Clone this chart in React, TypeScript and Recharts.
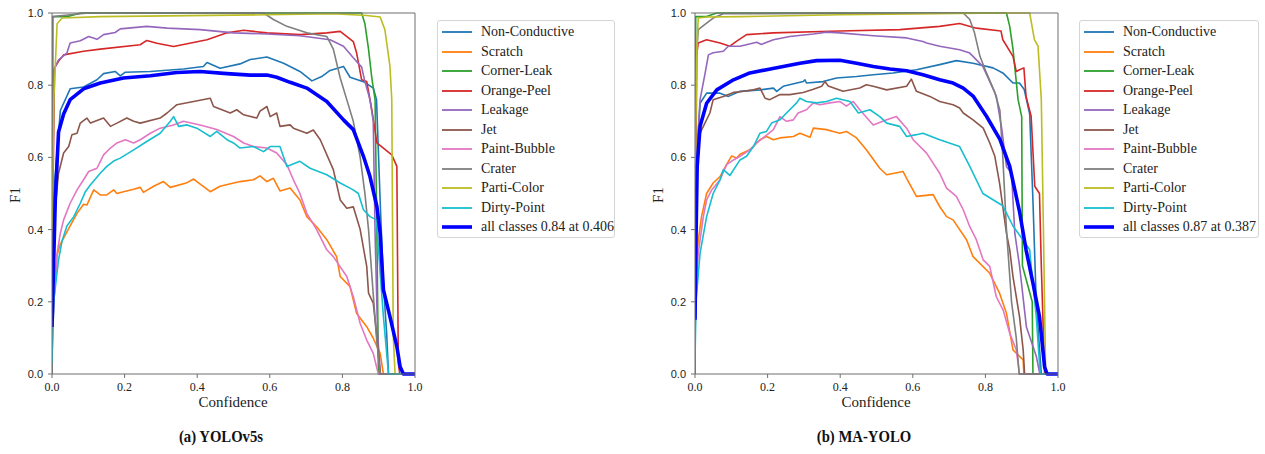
import React from "react";
import { LineChart, Line, XAxis, YAxis, ReferenceLine } from "recharts";

type Pt = [number, number];

const classNames = [
  "Non-Conductive",
  "Scratch",
  "Corner-Leak",
  "Orange-Peel",
  "Leakage",
  "Jet",
  "Paint-Bubble",
  "Crater",
  "Parti-Color",
  "Dirty-Point",
];

const classColors = [
  "#1f77b4", "#ff7f0e", "#2ca02c", "#d62728", "#9467bd",
  "#8c564b", "#e377c2", "#7f7f7f", "#bcbd22", "#17becf",
];
const allColor = "#0000ff";

const axisTicks = [0, 0.2, 0.4, 0.6, 0.8, 1.0];

// ---- (a) YOLOv5s : [confidence, F1] ----
const v5NonConductive: Pt[] = [[0,0.1],[0.005,0.5],[0.023,0.73],[0.05,0.79],[0.087,0.795],[0.124,0.815],[0.142,0.832],[0.174,0.838],[0.188,0.826],[0.202,0.836],[0.271,0.838],[0.362,0.845],[0.417,0.852],[0.427,0.863],[0.463,0.847],[0.518,0.859],[0.546,0.871],[0.592,0.878],[0.638,0.861],[0.683,0.838],[0.716,0.812],[0.743,0.824],[0.766,0.841],[0.803,0.852],[0.821,0.822],[0.862,0.808],[0.885,0.792],[0.894,0.76],[0.904,0.48],[0.913,0.25],[0.922,0.11],[0.927,0],[1,0]];
const v5Scratch: Pt[] = [[0,0.1],[0.005,0.2],[0.014,0.33],[0.023,0.36],[0.05,0.41],[0.069,0.445],[0.087,0.47],[0.096,0.468],[0.115,0.51],[0.133,0.496],[0.151,0.496],[0.17,0.51],[0.179,0.5],[0.197,0.505],[0.225,0.512],[0.243,0.517],[0.252,0.503],[0.28,0.52],[0.307,0.533],[0.326,0.517],[0.372,0.53],[0.39,0.54],[0.436,0.505],[0.463,0.52],[0.518,0.533],[0.555,0.538],[0.573,0.549],[0.592,0.533],[0.61,0.542],[0.628,0.507],[0.656,0.515],[0.683,0.482],[0.702,0.436],[0.729,0.408],[0.757,0.372],[0.784,0.325],[0.794,0.27],[0.821,0.242],[0.839,0.168],[0.867,0.131],[0.885,0.099],[0.904,0.057],[0.913,0],[1,0]];
const v5CornerLeak: Pt[] = [[0,0],[0.002,0.99],[0.041,0.99],[0.08,1.0],[0.853,1.0],[0.862,0.97],[0.872,0.9],[0.881,0.82],[0.89,0.76],[0.895,0.39],[0.899,0.02],[0.9,0],[1,0]];
const v5OrangePeel: Pt[] = [[0,0.3],[0.007,0.848],[0.018,0.866],[0.032,0.884],[0.087,0.894],[0.133,0.9],[0.243,0.912],[0.261,0.924],[0.289,0.916],[0.335,0.907],[0.427,0.926],[0.482,0.945],[0.528,0.952],[0.592,0.945],[0.683,0.94],[0.757,0.945],[0.794,0.949],[0.83,0.921],[0.839,0.89],[0.853,0.815],[0.867,0.81],[0.881,0.732],[0.895,0.64],[0.936,0.607],[0.95,0.575],[0.954,0.03],[0.958,0],[1,0]];
const v5Leakage: Pt[] = [[0,0.3],[0.005,0.843],[0.018,0.87],[0.041,0.889],[0.05,0.917],[0.078,0.923],[0.101,0.935],[0.124,0.927],[0.142,0.94],[0.174,0.946],[0.188,0.956],[0.261,0.963],[0.317,0.958],[0.408,0.954],[0.5,0.945],[0.592,0.942],[0.683,0.937],[0.766,0.926],[0.803,0.908],[0.83,0.876],[0.853,0.85],[0.862,0.81],[0.876,0.76],[0.885,0.7],[0.89,0.39],[0.897,0.11],[0.905,0],[1,0]];
const v5Jet: Pt[] = [[0,0.25],[0.003,0.35],[0.009,0.464],[0.018,0.556],[0.032,0.612],[0.046,0.63],[0.055,0.663],[0.069,0.667],[0.078,0.695],[0.096,0.709],[0.106,0.695],[0.142,0.709],[0.161,0.686],[0.179,0.695],[0.206,0.709],[0.225,0.7],[0.243,0.695],[0.298,0.709],[0.317,0.723],[0.344,0.746],[0.39,0.755],[0.436,0.764],[0.445,0.741],[0.491,0.723],[0.509,0.732],[0.528,0.718],[0.564,0.709],[0.573,0.728],[0.592,0.741],[0.601,0.713],[0.619,0.723],[0.628,0.686],[0.656,0.69],[0.665,0.681],[0.702,0.667],[0.72,0.676],[0.739,0.649],[0.775,0.566],[0.794,0.482],[0.812,0.459],[0.83,0.463],[0.849,0.4],[0.867,0.298],[0.872,0.224],[0.885,0.196],[0.894,0.113],[0.904,0],[1,0]];
const v5PaintBubble: Pt[] = [[0,0.05],[0.005,0.2],[0.014,0.335],[0.023,0.39],[0.032,0.427],[0.05,0.473],[0.069,0.51],[0.087,0.538],[0.101,0.561],[0.124,0.57],[0.142,0.607],[0.161,0.626],[0.179,0.64],[0.202,0.649],[0.225,0.64],[0.243,0.649],[0.271,0.667],[0.298,0.681],[0.335,0.69],[0.362,0.7],[0.408,0.69],[0.454,0.677],[0.5,0.658],[0.528,0.64],[0.555,0.63],[0.592,0.626],[0.619,0.612],[0.647,0.58],[0.665,0.538],[0.683,0.5],[0.702,0.445],[0.729,0.4],[0.757,0.344],[0.775,0.325],[0.812,0.27],[0.83,0.214],[0.849,0.14],[0.867,0.094],[0.885,0.057],[0.899,0],[1,0]];
const v5Crater: Pt[] = [[0,0],[0.002,0.99],[0.05,0.995],[0.1,1.0],[0.583,1.0],[0.61,0.982],[0.647,0.963],[0.702,0.945],[0.757,0.935],[0.775,0.9],[0.794,0.82],[0.812,0.76],[0.83,0.7],[0.849,0.6],[0.862,0.5],[0.872,0.4],[0.885,0.22],[0.894,0.1],[0.904,0],[1,0]];
const v5PartiColor: Pt[] = [[0,0.4],[0.005,0.76],[0.014,0.97],[0.028,0.986],[0.133,0.99],[0.592,0.995],[0.775,0.998],[0.867,0.993],[0.904,0.989],[0.917,0.954],[0.931,0.852],[0.936,0.76],[0.94,0.11],[0.945,0],[1,0]];
const v5DirtyPoint: Pt[] = [[0,0.03],[0.005,0.205],[0.018,0.316],[0.028,0.37],[0.041,0.41],[0.06,0.436],[0.078,0.473],[0.092,0.505],[0.106,0.524],[0.133,0.556],[0.151,0.575],[0.17,0.59],[0.188,0.598],[0.225,0.621],[0.261,0.644],[0.298,0.667],[0.326,0.7],[0.335,0.713],[0.349,0.686],[0.372,0.69],[0.399,0.681],[0.436,0.658],[0.454,0.672],[0.482,0.649],[0.5,0.64],[0.518,0.626],[0.555,0.63],[0.583,0.616],[0.601,0.63],[0.628,0.63],[0.647,0.575],[0.683,0.589],[0.711,0.57],[0.757,0.552],[0.794,0.529],[0.83,0.51],[0.844,0.5],[0.858,0.455],[0.876,0.436],[0.894,0.427],[0.904,0.28],[0.913,0.159],[0.922,0.057],[0.927,0],[1,0]];
const v5All: Pt[] = [[0,0.13],[0.009,0.48],[0.018,0.67],[0.032,0.72],[0.05,0.76],[0.087,0.79],[0.133,0.806],[0.197,0.82],[0.271,0.826],[0.344,0.835],[0.408,0.838],[0.482,0.832],[0.546,0.828],[0.592,0.828],[0.619,0.822],[0.656,0.808],[0.702,0.792],[0.757,0.755],[0.803,0.704],[0.83,0.677],[0.858,0.603],[0.876,0.547],[0.895,0.464],[0.904,0.39],[0.913,0.233],[0.931,0.159],[0.95,0.076],[0.959,0.02],[0.968,0],[1,0]];

// ---- (b) MA-YOLO : [confidence, F1] ----
const maNonConductive: Pt[] = [[0,0.1],[0.005,0.6],[0.014,0.75],[0.032,0.778],[0.069,0.778],[0.092,0.769],[0.124,0.783],[0.179,0.787],[0.216,0.792],[0.225,0.783],[0.243,0.797],[0.298,0.81],[0.303,0.815],[0.307,0.806],[0.353,0.81],[0.39,0.82],[0.445,0.824],[0.491,0.829],[0.546,0.834],[0.61,0.843],[0.674,0.857],[0.72,0.868],[0.766,0.861],[0.821,0.848],[0.848,0.834],[0.876,0.806],[0.894,0.806],[0.907,0.788],[0.922,0.72],[0.931,0.48],[0.94,0.2],[0.954,0],[1,0]];
const maScratch: Pt[] = [[0,0.1],[0.003,0.3],[0.009,0.37],[0.018,0.436],[0.032,0.5],[0.05,0.529],[0.069,0.547],[0.087,0.58],[0.101,0.604],[0.115,0.598],[0.124,0.609],[0.151,0.621],[0.179,0.649],[0.197,0.658],[0.216,0.649],[0.234,0.654],[0.271,0.658],[0.289,0.667],[0.317,0.656],[0.326,0.681],[0.362,0.677],[0.381,0.672],[0.399,0.667],[0.417,0.672],[0.445,0.654],[0.472,0.621],[0.509,0.57],[0.528,0.552],[0.573,0.561],[0.583,0.542],[0.61,0.492],[0.656,0.497],[0.674,0.464],[0.693,0.436],[0.711,0.427],[0.748,0.372],[0.766,0.325],[0.812,0.279],[0.839,0.224],[0.858,0.168],[0.876,0.067],[0.904,0.039],[0.906,0],[1,0]];
const maCornerLeak: Pt[] = [[0,0],[0.002,0.99],[0.032,0.99],[0.06,1.0],[0.858,1.0],[0.867,0.963],[0.876,0.9],[0.89,0.76],[0.9,0.713],[0.902,0.3],[0.929,0.2],[0.931,0],[1,0]];
const maOrangePeel: Pt[] = [[0,0.3],[0.005,0.889],[0.009,0.917],[0.032,0.926],[0.069,0.917],[0.096,0.908],[0.115,0.922],[0.142,0.94],[0.216,0.945],[0.399,0.95],[0.564,0.954],[0.674,0.963],[0.729,0.971],[0.775,0.958],[0.843,0.95],[0.848,0.926],[0.876,0.88],[0.885,0.838],[0.894,0.843],[0.906,0.848],[0.912,0.769],[0.926,0.714],[0.936,0.52],[0.949,0.5],[0.954,0.3],[0.963,0],[1,0]];
const maLeakage: Pt[] = [[0,0.3],[0.003,0.575],[0.014,0.76],[0.028,0.834],[0.037,0.884],[0.05,0.89],[0.078,0.894],[0.092,0.908],[0.124,0.908],[0.17,0.919],[0.183,0.913],[0.216,0.926],[0.261,0.935],[0.326,0.942],[0.362,0.947],[0.399,0.945],[0.491,0.937],[0.583,0.931],[0.628,0.921],[0.638,0.917],[0.674,0.908],[0.729,0.898],[0.757,0.889],[0.793,0.852],[0.83,0.77],[0.845,0.68],[0.858,0.575],[0.872,0.556],[0.881,0.39],[0.894,0.3],[0.913,0.13],[0.94,0.05],[0.95,0],[1,0]];
const maJet: Pt[] = [[0,0.2],[0.003,0.4],[0.005,0.593],[0.014,0.667],[0.023,0.686],[0.041,0.723],[0.05,0.76],[0.078,0.769],[0.106,0.78],[0.124,0.782],[0.161,0.787],[0.179,0.792],[0.193,0.764],[0.206,0.76],[0.234,0.774],[0.261,0.774],[0.298,0.78],[0.326,0.789],[0.349,0.797],[0.358,0.81],[0.367,0.798],[0.408,0.783],[0.454,0.792],[0.472,0.801],[0.491,0.797],[0.528,0.787],[0.583,0.797],[0.596,0.817],[0.61,0.783],[0.647,0.769],[0.674,0.755],[0.711,0.746],[0.729,0.737],[0.739,0.723],[0.766,0.704],[0.794,0.681],[0.812,0.64],[0.826,0.603],[0.839,0.529],[0.858,0.39],[0.867,0.344],[0.876,0.27],[0.894,0.159],[0.904,0.067],[0.908,0],[1,0]];
const maPaintBubble: Pt[] = [[0,0.1],[0.003,0.25],[0.009,0.335],[0.023,0.436],[0.032,0.482],[0.046,0.51],[0.069,0.538],[0.087,0.58],[0.106,0.593],[0.124,0.603],[0.151,0.621],[0.17,0.64],[0.193,0.658],[0.216,0.677],[0.234,0.713],[0.252,0.7],[0.271,0.704],[0.284,0.723],[0.307,0.732],[0.326,0.751],[0.344,0.746],[0.372,0.751],[0.399,0.755],[0.417,0.742],[0.436,0.755],[0.454,0.732],[0.491,0.69],[0.528,0.704],[0.555,0.713],[0.583,0.681],[0.601,0.649],[0.638,0.612],[0.674,0.556],[0.693,0.515],[0.72,0.492],[0.739,0.455],[0.757,0.408],[0.775,0.372],[0.794,0.316],[0.812,0.298],[0.83,0.214],[0.849,0.177],[0.867,0.113],[0.885,0.067],[0.894,0],[1,0]];
const maCrater: Pt[] = [[0,0],[0.002,0.85],[0.009,0.954],[0.032,0.972],[0.05,0.986],[0.078,0.998],[0.739,1.0],[0.757,0.982],[0.77,0.945],[0.785,0.88],[0.803,0.834],[0.826,0.78],[0.84,0.73],[0.848,0.6],[0.858,0.4],[0.872,0.2],[0.885,0.1],[0.893,0],[1,0]];
const maPartiColor: Pt[] = [[0,0.5],[0.005,0.9],[0.009,0.986],[0.032,0.989],[0.124,0.99],[0.399,0.995],[0.858,1.0],[0.922,1.0],[0.935,0.926],[0.945,0.908],[0.954,0.76],[0.96,0.39],[0.966,0],[1,0]];
const maDirtyPoint: Pt[] = [[0,0.04],[0.003,0.205],[0.014,0.335],[0.032,0.436],[0.05,0.5],[0.069,0.538],[0.078,0.566],[0.096,0.55],[0.124,0.593],[0.142,0.603],[0.161,0.63],[0.179,0.667],[0.197,0.672],[0.211,0.695],[0.234,0.704],[0.252,0.723],[0.28,0.751],[0.289,0.764],[0.307,0.755],[0.335,0.751],[0.362,0.755],[0.39,0.764],[0.427,0.755],[0.45,0.723],[0.482,0.732],[0.509,0.713],[0.528,0.695],[0.564,0.686],[0.583,0.658],[0.61,0.663],[0.628,0.667],[0.674,0.649],[0.729,0.63],[0.757,0.575],[0.793,0.5],[0.848,0.466],[0.876,0.41],[0.903,0.372],[0.922,0.344],[0.926,0.3],[0.94,0.16],[0.951,0],[1,0]];
const maAll: Pt[] = [[0,0.15],[0.003,0.39],[0.006,0.575],[0.014,0.686],[0.032,0.75],[0.06,0.787],[0.106,0.815],[0.151,0.834],[0.197,0.843],[0.243,0.852],[0.289,0.861],[0.335,0.868],[0.399,0.869],[0.445,0.861],[0.491,0.852],[0.537,0.845],[0.583,0.84],[0.628,0.829],[0.674,0.815],[0.711,0.806],[0.739,0.792],[0.766,0.77],[0.803,0.714],[0.84,0.65],[0.867,0.575],[0.894,0.45],[0.912,0.344],[0.931,0.252],[0.949,0.159],[0.963,0.02],[0.97,0],[1,0]];

const v5Series = [v5NonConductive, v5Scratch, v5CornerLeak, v5OrangePeel, v5Leakage, v5Jet, v5PaintBubble, v5Crater, v5PartiColor, v5DirtyPoint];
const maSeries = [maNonConductive, maScratch, maCornerLeak, maOrangePeel, maLeakage, maJet, maPaintBubble, maCrater, maPartiColor, maDirtyPoint];

const axisColor = "#6f6f6f";
const serif = "'Liberation Serif', 'Times New Roman', serif";
const sans = "'Liberation Sans', Arial, sans-serif";

const toRows = (pts: Pt[]) => pts.map(([c, f]) => ({ c, f }));

function Panel({ left, series, all, allLabel, caption, legendLeft, legendWidth }: {
  left: number; series: Pt[][]; all: Pt[]; allLabel: string; caption: string; legendLeft: number; legendWidth: number;
}) {
  return (
    <>
      <div style={{ position: "absolute", left, top: 0 }}>
        <LineChart width={640} height={454} margin={{ top: 13, right: 225, bottom: 50, left: 22 }}>
          <XAxis
            dataKey="c" type="number" domain={[0, 1]} ticks={axisTicks}
            tickFormatter={(v: number) => v.toFixed(1)}
            height={30} tickSize={4} tickMargin={4}
            stroke={axisColor} allowDataOverflow
            tick={{ fontFamily: serif, fontSize: 12, fill: "#222" }}
            label={{ content: () => (
              <text x={233} y={402} textAnchor="middle" dominantBaseline="central" fontFamily={serif} fontSize={15} fill="#222">Confidence</text>
            ) }}
          />
          <YAxis
            type="number" domain={[0, 1]} ticks={axisTicks}
            tickFormatter={(v: number) => v.toFixed(1)}
            width={30} tickSize={4} tickMargin={5}
            stroke={axisColor}
            tick={{ fontFamily: sans, fontSize: 11, fill: "#222" }}
            label={{ content: () => (
              <text x={15} y={195} transform="rotate(-90 15 195)" textAnchor="middle" dominantBaseline="central" fontFamily={serif} fontSize={15} fill="#222">F1</text>
            ) }}
          />
          {series.map((pts, i) => (
            <Line
              key={classNames[i]} data={toRows(pts)} dataKey="f" name={classNames[i]}
              stroke={classColors[i]} strokeWidth={1.6} dot={false} activeDot={false}
              strokeLinejoin="round" isAnimationActive={false} type="linear"
            />
          ))}
          <Line
            data={toRows(all)} dataKey="f" name={allLabel}
            stroke={allColor} strokeWidth={3.6} dot={false} activeDot={false}
            strokeLinejoin="round" isAnimationActive={false} type="linear"
          />
          <ReferenceLine y={1} stroke={axisColor} strokeWidth={1} />
          <ReferenceLine x={1} stroke={axisColor} strokeWidth={1} />
        </LineChart>
      </div>
      <div style={{
        position: "absolute", left: legendLeft, top: 20, width: legendWidth, height: 218,
        border: "1px solid #d4d4d4", borderRadius: 3, boxSizing: "border-box", background: "#fff",
      }}>
        {[...classNames, allLabel].map((name, i) => {
          const isAll = i === classNames.length;
          return (
            <div key={name} style={{ position: "absolute", left: 0, top: 1 + i * 19.5, height: 19.5, width: "100%" }}>
              <svg width={36} height={19.5} style={{ position: "absolute", left: 3, top: 0 }}>
                <line x1={1} x2={31} y1={10} y2={10} stroke={isAll ? allColor : classColors[i]} strokeWidth={isAll ? 3.6 : 1.8} />
              </svg>
              <span style={{
                position: "absolute", left: 43, top: 0, lineHeight: "19.5px", whiteSpace: "nowrap",
                fontFamily: serif, fontSize: 14, color: "#222",
              }}>{name}</span>
            </div>
          );
        })}
      </div>
      <div style={{
        position: "absolute", left: left + 221 - 100, top: 427, width: 200, textAlign: "center",
        fontFamily: serif, fontWeight: "bold", fontSize: 16, lineHeight: "20px", color: "#111",
        transform: "scaleX(0.92)",
      }}>{caption}</div>
    </>
  );
}

export default function App() {
  return (
    <div style={{ position: "absolute", left: 0, top: 0, width: 1265, height: 454, background: "#fff", overflow: "hidden" }}>
      <Panel left={0} series={v5Series} all={v5All} allLabel="all classes 0.84 at 0.406" caption="(a) YOLOv5s" legendLeft={437} legendWidth={178} />
      <Panel left={643} series={maSeries} all={maAll} allLabel="all classes 0.87 at 0.387" caption="(b) MA-YOLO" legendLeft={1079} legendWidth={180} />
    </div>
  );
}
